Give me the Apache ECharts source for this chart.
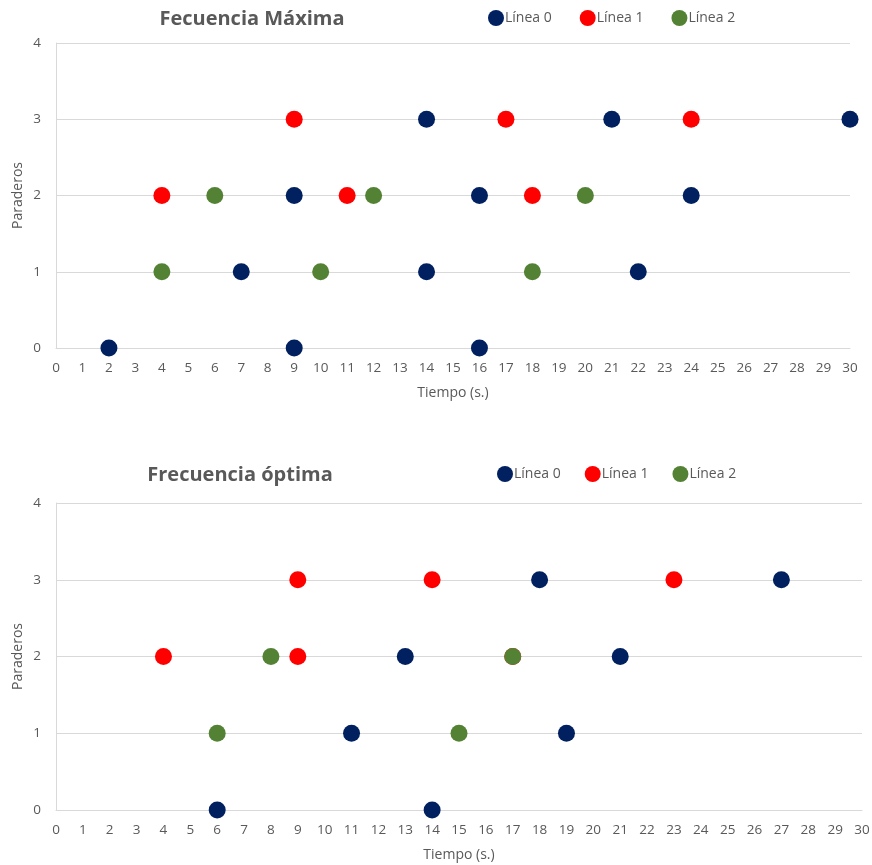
<!DOCTYPE html>
<html>
<head>
<meta charset="utf-8">
<script src="https://cdn.jsdelivr.net/npm/echarts@6/dist/echarts.min.js"></script>
<style>
  html, body { margin: 0; padding: 0; background: #fff; }
  #chart { width: 872px; height: 865px; }
</style>
</head>
<body>
<div id="chart"></div>
<script>
// Stop schedule: [time (s), stop index] per line
const maxLine0 = [[2,0],[9,0],[16,0],[7,1],[14,1],[22,1],[9,2],[16,2],[24,2],[14,3],[21,3],[30,3]];
const maxLine1 = [[4,2],[9,3],[11,2],[17,3],[18,2],[24,3]];
const maxLine2 = [[4,1],[6,2],[10,1],[12,2],[18,1],[20,2]];

const optLine0 = [[6,0],[14,0],[11,1],[19,1],[13,2],[21,2],[18,3],[27,3]];
const optLine1 = [[4,2],[9,2],[9,3],[14,3],[23,3],[17,2]];
const optLine2 = [[6,1],[8,2],[15,1],[17,2]];

const seriesNames = ['Línea 0', 'Línea 1', 'Línea 2'];
const colors = ['#002060', '#FF0000', '#548235'];
const titles = ['Fecuencia Máxima', 'Frecuencia óptima'];
const xTitle = 'Tiempo (s.)';
const yTitle = 'Paraderos';

const FONT = '"Open Sans", "Noto Sans", sans-serif';
const textGray = '#595959';
const gridGray = '#d9d9d9';

function xAxis(gridIndex) {
  return {
    type: 'value', gridIndex, min: 0, max: 30, interval: 1,
    name: xTitle, nameLocation: 'middle', nameGap: 38, nameMoveOverlap: false,
    nameTextStyle: { color: textGray, fontSize: 14, fontFamily: FONT },
    axisLine: { show: true, lineStyle: { color: gridGray, width: 1 } },
    axisTick: { show: false },
    axisLabel: { color: textGray, fontSize: 13.5, fontFamily: FONT, margin: 13 },
    splitLine: { show: false }
  };
}
function yAxis(gridIndex) {
  return {
    type: 'value', gridIndex, min: 0, max: 4, interval: 1,
    name: yTitle, nameLocation: 'middle', nameGap: 31, nameMoveOverlap: false,
    nameTextStyle: { color: textGray, fontSize: 14, fontFamily: FONT },
    axisLine: { show: true, lineStyle: { color: gridGray, width: 1 } },
    axisTick: { show: false },
    axisLabel: { color: textGray, fontSize: 13.5, fontFamily: FONT, margin: 15 },
    splitLine: { show: true, lineStyle: { color: gridGray, width: 1 } }
  };
}
function scatter(name, data, idx, color) {
  return {
    type: 'scatter', name, data,
    xAxisIndex: idx, yAxisIndex: idx,
    symbol: 'circle', symbolSize: 17,
    itemStyle: { color, opacity: 1 },
    emphasis: { disabled: true }
  };
}
function legend(left, top, gap) {
  return {
    left, top, data: seriesNames,
    icon: 'circle', itemWidth: 16, itemHeight: 16, itemGap: gap,
    textStyle: { color: textGray, fontSize: 14, fontFamily: FONT, padding: [0, 0, 0, -4] },
    selectedMode: false
  };
}

const chart = echarts.init(document.getElementById('chart'), null, { renderer: 'canvas' });
chart.setOption({
  animation: false,
  color: colors,
  title: [
    { text: titles[0], left: 247, top: 4, textAlign: 'center',
      textStyle: { color: textGray, fontSize: 20, fontWeight: 'bold', fontFamily: FONT } },
    { text: titles[1], left: 235, top: 460, textAlign: 'center',
      textStyle: { color: textGray, fontSize: 20, fontWeight: 'bold', fontFamily: FONT } }
  ],
  legend: [legend(483, 5, 28), legend(492, 461, 24)],
  grid: [
    { left: 56, top: 43, width: 794, height: 305, outerBoundsMode: 'none', containLabel: false },
    { left: 56, top: 503, width: 806, height: 307, outerBoundsMode: 'none', containLabel: false }
  ],
  xAxis: [xAxis(0), xAxis(1)],
  yAxis: [yAxis(0), yAxis(1)],
  series: [
    scatter(seriesNames[0], maxLine0, 0, colors[0]),
    scatter(seriesNames[1], maxLine1, 0, colors[1]),
    scatter(seriesNames[2], maxLine2, 0, colors[2]),
    scatter(seriesNames[0], optLine0, 1, colors[0]),
    scatter(seriesNames[1], optLine1, 1, colors[1]),
    scatter(seriesNames[2], optLine2, 1, colors[2])
  ]
});
</script>
</body>
</html>
